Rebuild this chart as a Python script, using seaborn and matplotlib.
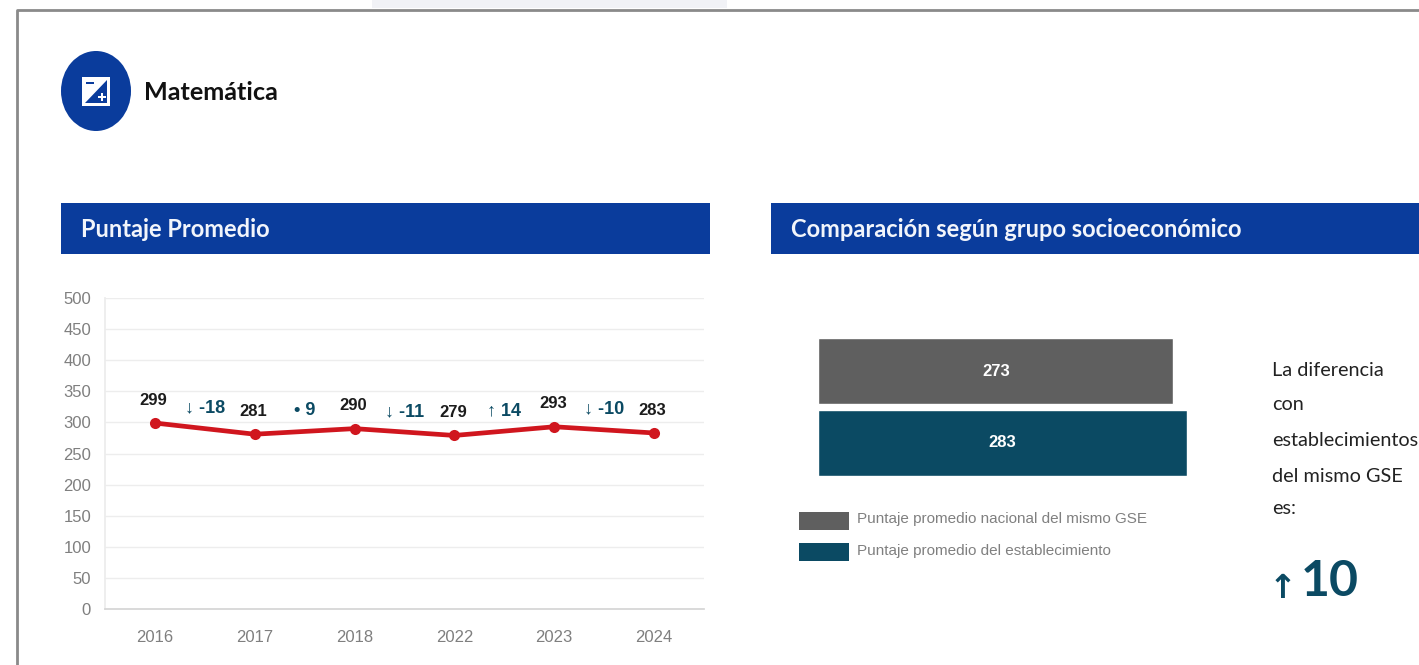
import matplotlib
matplotlib.use("Agg")
import matplotlib.pyplot as plt
from matplotlib.patches import Ellipse, Rectangle, Polygon
import seaborn as sns
import pandas as pd

years = ["2016", "2017", "2018", "2022", "2023", "2024"]
scores = [299, 281, 290, 279, 293, 283]
change_labels = ["↓ -18", "• 9", "↓ -11", "↑ 14", "↓ -10"]
y_ticks = [0, 50, 100, 150, 200, 250, 300, 350, 400, 450, 500]
bar_names = ["Puntaje promedio nacional del mismo GSE", "Puntaje promedio del establecimiento"]
bar_values = [273, 283]
diff_lines = ["La diferencia", "con", "establecimientos", "del mismo GSE", "es:"]

W, H = 1419, 665
BLUE, TEAL, GREY, RED = "#0a3c9c", "#0b4a63", "#5f5f5f", "#d0161e"
NARROW = ["Liberation Sans", "DejaVu Sans"]
HUM = ["Lato", "DejaVu Sans"]

sns.set_theme(style="white")
plt.rcParams["font.family"] = ["Liberation Sans", "DejaVu Sans"]
fig = plt.figure(figsize=(W / 100, H / 100), dpi=100, facecolor="white")

def axes_px(x0, y0, x1, y1, **kw):
    return fig.add_axes([x0 / W, 1 - y1 / H, (x1 - x0) / W, (y1 - y0) / H], **kw)

bg = axes_px(0, 0, W, H)
bg.set_xlim(0, W); bg.set_ylim(H, 0); bg.axis("off")
bg.add_patch(Rectangle((372, 0), 355, 8, fc="#f1f2f6", ec="none"))
bg.plot([17, 17, W], [H, 9.5, 9.5], color="#8a8a8a", lw=2)
bg.add_patch(Ellipse((96, 91), 70, 80, fc=BLUE, ec="none"))
bg.add_patch(Rectangle((82, 77), 28, 29, fc="white", ec="none"))
bg.add_patch(Polygon([[85, 103], [107, 80], [107, 103]], fc=BLUE, ec="none"))
bg.add_patch(Rectangle((86, 82), 8, 2, fc=BLUE, ec="none"))
bg.add_patch(Rectangle((98, 96), 8, 2, fc="white", ec="none"))
bg.add_patch(Rectangle((101, 93), 2, 8, fc="white", ec="none"))
bg.text(144, 92.5, "Matemática", fontsize=18.2, fontweight="bold", family=HUM,
        color="#111111", va="center", ha="left")
bg.add_patch(Rectangle((61, 203), 649, 51, fc=BLUE, ec="none"))
bg.add_patch(Rectangle((771, 203), 648, 51, fc=BLUE, ec="none"))
bg.text(81, 229.5, "Puntaje Promedio", fontsize=17, fontweight="bold", family=HUM,
        color="#f2f5fb", va="center", ha="left")
bg.text(791, 229.5, "Comparación según grupo socioeconómico", fontsize=17, fontweight="bold",
        family=HUM, color="#f2f5fb", va="center", ha="left")

# line chart
ax = axes_px(105, 298, 704, 609)
ax.patch.set_alpha(0)
df = pd.DataFrame({"year": years, "score": scores})
sns.lineplot(data=df, x="year", y="score", ax=ax, color=RED, lw=3.4, marker="o",
             markersize=8, markeredgewidth=0, sort=False, errorbar=None)
ax.set_xlim(-0.5, 5.5)
ax.set_ylim(0, 500)
ax.set_yticks(y_ticks)
ax.set_xlabel(""); ax.set_ylabel("")
ax.grid(axis="y", color="#ededed", lw=1)
ax.set_axisbelow(True)
for s in ["top", "right"]:
    ax.spines[s].set_visible(False)
ax.spines["left"].set_color("#ececec")
ax.spines["bottom"].set_color("#d5d5d5")
ax.tick_params(axis="both", length=0, labelcolor="#7f7f7f", labelsize=12)
ax.tick_params(axis="x", pad=15)
ax.tick_params(axis="y", pad=10)
for lab in ax.get_xticklabels() + ax.get_yticklabels():
    lab.set_family(NARROW)
for i, v in enumerate(scores):
    ax.annotate(str(v), (i, v), xytext=(-1, 16.5), textcoords="offset points", ha="center", va="center",
                fontsize=12, fontweight="bold", family=NARROW, color="#1c1c1c")
for i, t in enumerate(change_labels):
    level = (scores[i] + scores[i + 1]) / 2
    ax.annotate(t, (i + 0.5, level), xytext=(0, 14.8), textcoords="offset points",
                ha="center", va="center", fontsize=13, fontweight="bold", family=NARROW, color=TEAL)

# bars
bx = axes_px(818.5, 338.5, 1186.5, 475.5)
bx.patch.set_alpha(0)
bdf = pd.DataFrame({"name": bar_names, "value": bar_values})
sns.barplot(data=bdf, y="name", x="value", hue="name", palette=[GREY, TEAL], legend=False,
            ax=bx, width=0.903, saturation=1, orient="h")
bx.set_xlim(0, 283)
bx.set_ylim(1.4515, -0.4515)
bx.axis("off")
for c, v in zip(bx.containers, bar_values):
    bx.bar_label(c, labels=[str(v)], label_type="center", color="white", fontsize=12,
                 fontweight="bold", family=NARROW)

# legend
for ytop, col, name, ytxt in [(512, GREY, bar_names[0], 519), (543, TEAL, bar_names[1], 551)]:
    bg.add_patch(Rectangle((799, ytop), 50, 18, fc=col, ec="none"))
    bg.text(857, ytxt, name, fontsize=11, family=NARROW, color="#808080", va="center", ha="left")

# right-hand text
for yy, line in zip([370, 405, 441, 476, 509], diff_lines):
    bg.text(1272, yy, line, fontsize=14.3, family=HUM, color="#222222", va="center", ha="left")
bg.text(1269, 589, "↑", fontsize=24, fontweight="bold", family=["DejaVu Sans"], color=TEAL,
        va="center", ha="left")
bg.text(1301, 581, "10", fontsize=36, fontweight="bold", family=HUM, color=TEAL, va="center", ha="left")

fig.savefig("out.png", dpi=100, facecolor="white")
